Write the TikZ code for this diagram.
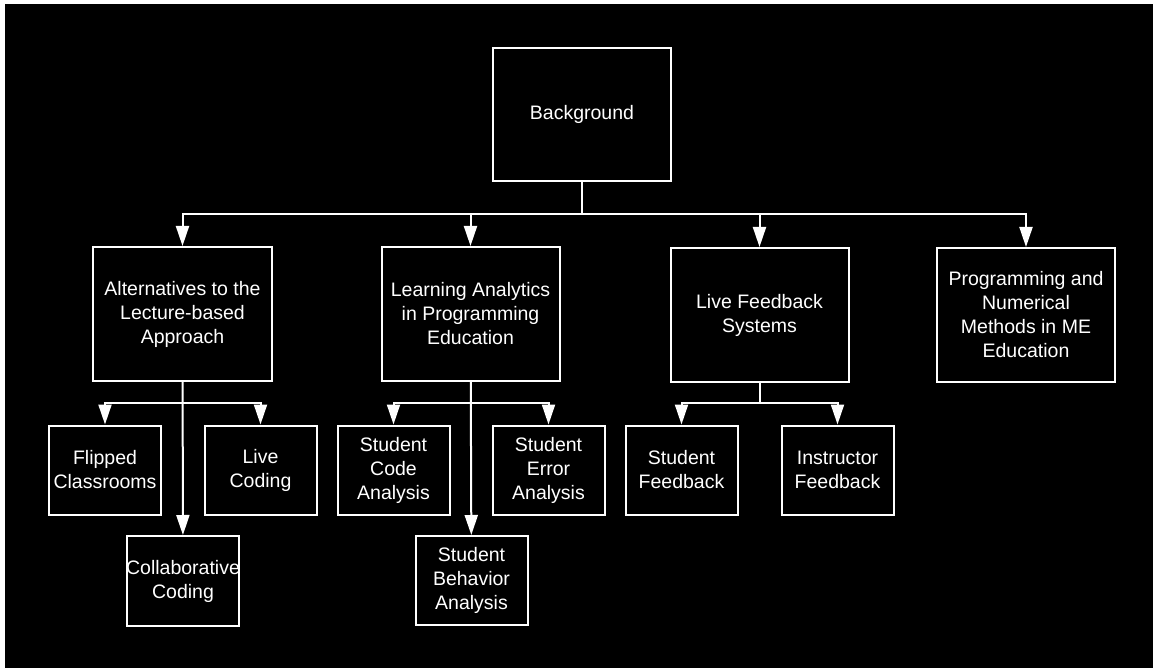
\documentclass[tikz,border=0pt]{standalone}
\usepackage{fontspec}
\setmainfont{Liberation Sans}
\usetikzlibrary{arrows.meta}
\begin{document}
\begin{tikzpicture}[x=1bp,y=-1bp,
  box/.style={draw=white, line width=2bp, minimum width=178bp, minimum height=134bp,
    inner sep=0pt, align=center, text=white, font=\fontsize{19.5bp}{24bp}\selectfont},
  small/.style={box, minimum width=112bp, minimum height=89bp},
  conn/.style={draw=white, line width=2bp},
  arr/.style={conn, -{Triangle[length=20bp,width=13bp]}}]
\fill[white] (0,0) rectangle (1153,668);
\fill[black] (5,4) rectangle (1153,668);
% level 1
\node[box, minimum height=133bp] (bg) at (582,114.5) {Background};
% level 2
\node[box] (alt) at (182.5,314) {Alternatives to the\\Lecture-based\\Approach};
\node[box] (la) at (470.5,314) {Learning Analytics\\in Programming\\Education};
\node[box] (lfs) at (759.5,315) {Live Feedback\\Systems};
\node[box] (prog) at (1026,315) {Programming and\\Numerical\\Methods in ME\\Education};
% level 3
\node[small] (flip) at (105,470) {Flipped\\Classrooms};
\node[small] (live) at (260.5,470) {Live\\Coding};
\node[small, minimum height=90bp] (collab) at (183,581) {\makebox[108bp]{Collaborative}\\Coding};
\node[small] (scode) at (393.5,470) {Student\\Code\\Analysis};
\node[small] (serr) at (548.5,470) {Student\\Error\\Analysis};
\node[small] (sbeh) at (471.5,580.5) {Student\\Behavior\\Analysis};
\node[small] (sfb) at (681.5,470) {Student\\Feedback};
\node[small] (ifb) at (837.5,470) {Instructor\\Feedback};
% hubs
\coordinate (hub) at (582,214);
\coordinate (althub) at (182.5,403);
\coordinate (lahub) at (470.5,403);
\coordinate (lfshub) at (759.5,403);
% connectors
\draw[conn] (bg) -- (hub);
\draw[arr] (hub) -| (alt);
\draw[arr] (hub) -| (la);
\draw[arr] (hub) -| (lfs);
\draw[arr] (hub) -| (prog);
\draw[arr] (alt) -- (collab);
\draw[arr] (althub) -| (flip);
\draw[arr] (althub) -| (live);
\draw[arr] (la) -- (sbeh);
\draw[arr] (lahub) -| (scode);
\draw[arr] (lahub) -| (serr);
\draw[conn] (lfs) -- (lfshub);
\draw[arr] (lfshub) -| (sfb);
\draw[arr] (lfshub) -| (ifb);
\end{tikzpicture}
\end{document}
